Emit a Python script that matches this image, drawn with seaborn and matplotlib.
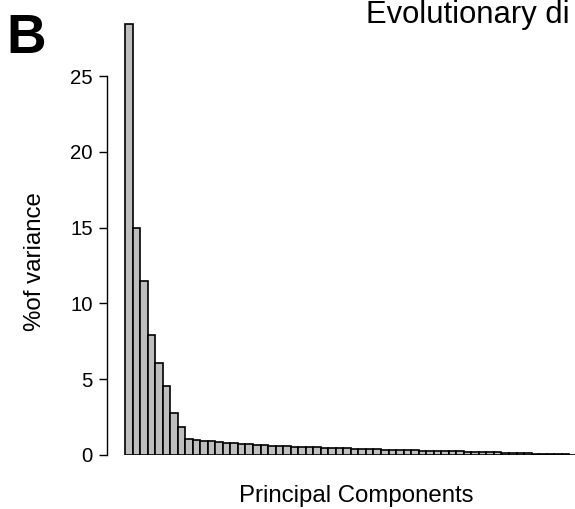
import matplotlib
matplotlib.use("Agg")
import matplotlib.pyplot as plt
import seaborn as sns
import pandas as pd

# ---- data ----
components = [f"PC{i}" for i in range(1, 61)]
variance_pct = [
    28.4, 14.95, 11.5, 7.9, 6.1, 4.56, 2.8, 1.86,
    1.03, 0.98, 0.94, 0.90, 0.86, 0.82, 0.78, 0.75, 0.72, 0.68, 0.65, 0.62,
    0.60, 0.58, 0.56, 0.54, 0.52, 0.50, 0.49, 0.47, 0.45, 0.44,
    0.42, 0.41, 0.39, 0.38, 0.36, 0.35, 0.34, 0.32, 0.31, 0.29,
    0.28, 0.27, 0.26, 0.25, 0.24, 0.23, 0.21, 0.20, 0.19, 0.18,
    0.15, 0.13, 0.11, 0.10, 0.09, 0.07, 0.06, 0.05, 0.04, 0.03,
]
y_ticks = [0, 5, 10, 15, 20, 25]
title_text = "Evolutionary di"
panel_label = "B"
x_label = "Principal Components"
y_label = "%of variance"

df = pd.DataFrame({"component": components, "variance": variance_pct})

sns.set_theme(style="white")
plt.rcParams["font.family"] = ["Liberation Sans", "DejaVu Sans"]

W, H = 575, 509
fig = plt.figure(figsize=(W / 100, H / 100), dpi=100)

ax_left = 107 / W
ax_bottom = (H - 455) / H
ymax = 29.0
px_per_unit = 15.16
ax_height = ymax * px_per_unit / H
ax = fig.add_axes([ax_left, ax_bottom, 1 - ax_left, ax_height])

sns.barplot(data=df, x="component", y="variance", order=components,
            color="#bebebe", edgecolor="black", linewidth=1.2,
            width=1.0, saturation=1, ax=ax)

pitch = 7.53
xmin = -0.5 - 18 / pitch
xmax = xmin + (W - 107) / pitch
ax.set_xlim(xmin, xmax)
ax.set_ylim(0, ymax)

for s in ["top", "right", "bottom"]:
    ax.spines[s].set_visible(False)
ax.spines["left"].set_bounds(0, 25)
ax.spines["left"].set_linewidth(1.0)
ax.spines["left"].set_color("black")

ax.set_xticks([])
ax.set_yticks(y_ticks)
ax.set_yticklabels([str(t) for t in y_ticks])
ax.tick_params(axis="y", left=True, length=5.8, width=1.0, pad=4.3,
               labelsize=14.7, colors="black")
ax.set_xlabel("")
ax.set_ylabel("")
ax.grid(False)

fig.text(356.5 / W, 1 - 502 / H, x_label, ha="center", va="baseline",
         fontsize=17.3, color="black")
fig.text(35 / W, 1 - 262 / H, y_label, ha="center", va="center",
         rotation=90, fontsize=17.3, color="black")
fig.text(366 / W, 1 - 23 / H, title_text, ha="left", va="baseline",
         fontsize=22.3, color="black")
fig.text(6 / W, 1 - 53 / H, panel_label, ha="left", va="baseline",
         fontsize=39.5, fontweight="bold", color="black")

fig.savefig("out.png", dpi=100)
